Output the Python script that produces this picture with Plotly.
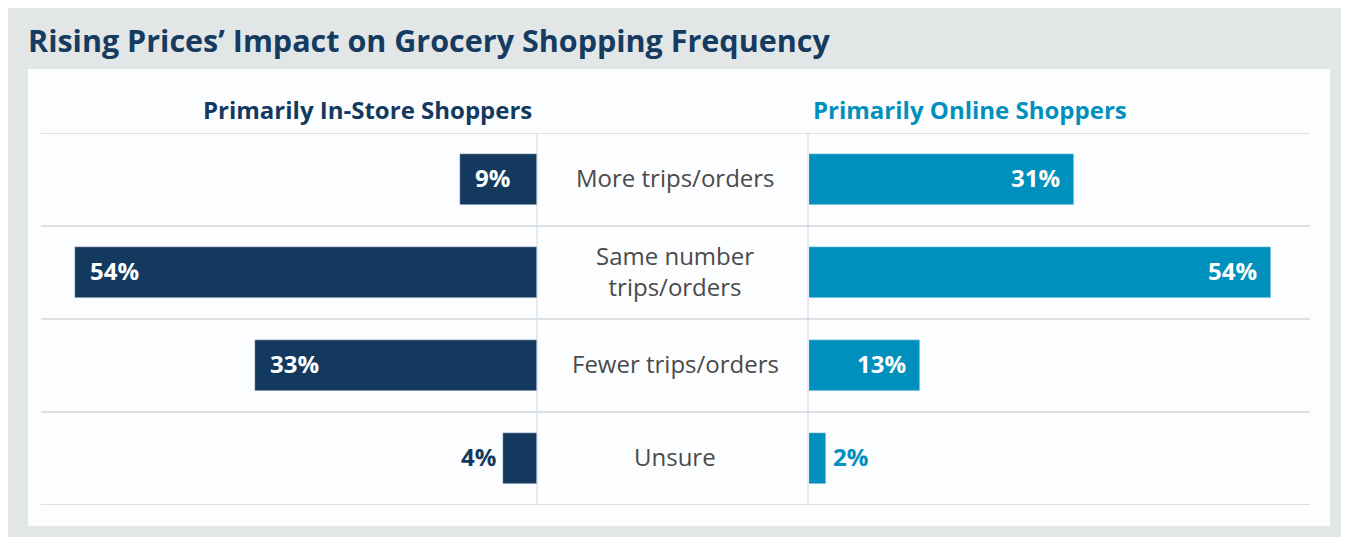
import plotly.graph_objects as go
from plotly.subplots import make_subplots

categories = ["More trips/orders", "Same number<br>trips/orders", "Fewer trips/orders", "Unsure"]
in_store = [9, 54, 33, 4]
online = [31, 54, 13, 2]
title = "Rising Prices’ Impact on Grocery Shopping Frequency"
left_header = "Primarily In-Store Shoppers"
right_header = "Primarily Online Shoppers"

NAVY = "#133a5e"
BLUE = "#0090bd"
GREY_TXT = "#4a4a4a"
GRID = "#d3d6da"
FONT = "Open Sans"

OFF = 8  # page body margin
W, H = 1349 - OFF, 537 - OFF
px_per_pct = 8.556  # bar scale in pixels


def px(x):
    return (x - OFF) / W


def py(y):
    return 1 - (y - OFF) / H


fig = make_subplots(rows=1, cols=2)

fig.add_trace(go.Bar(y=categories, x=in_store, orientation="h", marker_color=NAVY,
                     width=0.54, hoverinfo="x+y"), row=1, col=1)
fig.add_trace(go.Bar(y=categories, x=online, orientation="h", marker_color=BLUE,
                     width=0.54, hoverinfo="x+y"), row=1, col=2)

grid_top, grid_bot = 133, 505
left_l, left_r = 41, 537
right_l, right_r = 808, 1310

fig.update_layout(
    width=W, height=H,
    margin=dict(l=0, r=0, t=0, b=0),
    paper_bgcolor="white", plot_bgcolor="rgba(0,0,0,0)",
    showlegend=False, bargap=0,
    font=dict(family=FONT, color=GREY_TXT),
    xaxis=dict(domain=[px(left_l), px(left_r)],
               range=[(left_r - left_l) / px_per_pct, 0],
               visible=False, fixedrange=True),
    xaxis2=dict(domain=[px(right_l + 1), px(right_r)],
                range=[0, (right_r - right_l - 1) / px_per_pct],
                visible=False, fixedrange=True),
    yaxis=dict(domain=[py(grid_bot), py(grid_top)], range=[3.5, -0.5],
               visible=False, fixedrange=True),
    yaxis2=dict(domain=[py(grid_bot), py(grid_top)], range=[3.5, -0.5],
                visible=False, fixedrange=True, matches="y"),
)

shapes = [
    # grey card and white panel
    dict(type="rect", xref="paper", yref="paper", x0=0, x1=1, y0=0, y1=1,
         fillcolor="#e3e6e7", line_width=0, layer="below"),
    dict(type="rect", xref="paper", yref="paper", x0=px(28), x1=px(1330), y0=py(526), y1=py(69),
         fillcolor="#fcfdfe", line_width=0, layer="below"),
]
# row separators
for i in range(len(categories) + 1):
    shapes.append(dict(type="line", xref="paper", yref="y", x0=px(left_l), x1=px(right_r),
                       y0=i - 0.5, y1=i - 0.5, line=dict(color=GRID, width=1.5), layer="below"))
# column separators
for xv in (left_r, right_l):
    shapes.append(dict(type="line", xref="paper", yref="y", x0=px(xv), x1=px(xv),
                       y0=-0.5, y1=len(categories) - 0.5, line=dict(color=GRID, width=1), layer="below"))

annotations = [
    dict(text=f"<b>{title}</b>", xref="paper", yref="paper", x=px(26), y=py(40),
         xanchor="left", yanchor="middle", showarrow=False,
         font=dict(size=30.5, color="#153c60", family=FONT)),
    dict(text=f"<b>{left_header}</b>", xref="paper", yref="paper", x=px(534), y=py(109),
         xanchor="right", yanchor="middle", showarrow=False,
         font=dict(size=24, color=NAVY, family=FONT)),
    dict(text=f"<b>{right_header}</b>", xref="paper", yref="paper", x=px(811), y=py(109),
         xanchor="left", yanchor="middle", showarrow=False,
         font=dict(size=24, color=BLUE, family=FONT)),
]

for cat in categories:
    annotations.append(dict(text=cat, xref="paper", yref="y", x=px(675), y=cat, yshift=2,
                            xanchor="center", yanchor="middle", showarrow=False,
                            font=dict(size=24, color=GREY_TXT, family=FONT)))

# value labels: inside bar end if the bar is wide enough, else outside
for cat, v in zip(categories, in_store):
    inside = v >= 8
    annotations.append(dict(text=f"<b>{v}%</b>", xref="x", yref="y", x=v, y=cat, yshift=2,
                            xanchor="left" if inside else "right",
                            xshift=13 if inside else -5, yanchor="middle", showarrow=False,
                            font=dict(size=24, color="white" if inside else NAVY, family=FONT)))
for cat, v in zip(categories, online):
    inside = v >= 8
    annotations.append(dict(text=f"<b>{v}%</b>", xref="x2", yref="y", x=v, y=cat, yshift=2,
                            xanchor="right" if inside else "left",
                            xshift=-12 if inside else 5, yanchor="middle", showarrow=False,
                            font=dict(size=24, color="white" if inside else BLUE, family=FONT)))

fig.update_layout(shapes=shapes, annotations=annotations)

fig.write_html("out.html")
